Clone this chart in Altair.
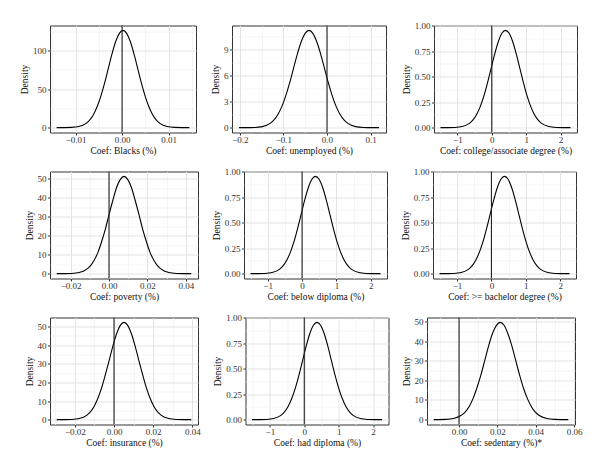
import json

import altair as alt
import pandas as pd

# Posterior density curves of the nine regression coefficients.
# Each panel: coefficient values (x) and the corresponding density (y).

BLACKS_X = [-0.01407, -0.01248, -0.0109, -0.00931, -0.00773, -0.00693, -0.00614, -0.00535,
            -0.00456, -0.00376, -0.00297, -0.00218, -0.00139, -0.00059, 0.0002, 0.00099,
            0.00179, 0.00258, 0.00337, 0.00416, 0.00496, 0.00575, 0.00654, 0.00733,
            0.00813, 0.00971, 0.0113, 0.01288, 0.01447]
BLACKS_D = [0.0, 0.04, 0.28, 1.4, 5.5, 10.0, 17.0, 27.3, 40.9, 57.7, 76.4, 95.1, 111.2, 122.1,
            126.0, 122.1, 111.2, 95.1, 76.4, 57.7, 40.9, 27.3, 17.0, 10.0, 5.5, 1.4, 0.28,
            0.04, 0.0]

UNEMP_X = [-0.2020, -0.1841, -0.1663, -0.1484, -0.1306, -0.1216, -0.1127, -0.1038, -0.0949,
           -0.0859, -0.0770, -0.0681, -0.0592, -0.0502, -0.0413, -0.0324, -0.0235, -0.0145,
           -0.0056, 0.0033, 0.0123, 0.0212, 0.0301, 0.0390, 0.0480, 0.0658, 0.0837, 0.1015,
           0.1194]
UNEMP_D = [0.0, 0.0, 0.02, 0.12, 0.49, 0.89, 1.51, 2.41, 3.62, 5.10, 6.76, 8.42, 9.84, 10.81,
           11.15, 10.81, 9.84, 8.42, 6.76, 5.10, 3.62, 2.41, 1.51, 0.89, 0.49, 0.12, 0.02,
           0.0, 0.0]

COLLEGE_X = [-1.49, -1.28, -1.07, -0.86, -0.65, -0.545, -0.44, -0.335, -0.23, -0.125, -0.02,
             0.085, 0.19, 0.295, 0.40, 0.505, 0.61, 0.715, 0.82, 0.925, 1.03, 1.135, 1.24,
             1.345, 1.45, 1.66, 1.87, 2.08, 2.29]
COLLEGE_D = [0.0, 0.0003, 0.002, 0.011, 0.042, 0.076, 0.129, 0.206, 0.309, 0.437, 0.579,
             0.720, 0.842, 0.925, 0.954, 0.925, 0.842, 0.720, 0.579, 0.437, 0.309, 0.206,
             0.129, 0.076, 0.042, 0.011, 0.002, 0.0003, 0.0]

POVERTY_X = [-0.0272, -0.0233, -0.0194, -0.0155, -0.0117, -0.0097, -0.0078, -0.0058, -0.0039,
             -0.0019, 0.0000, 0.0020, 0.0039, 0.0059, 0.0078, 0.0097, 0.0117, 0.0136, 0.0156,
             0.0175, 0.0195, 0.0214, 0.0234, 0.0253, 0.0273, 0.0311, 0.0350, 0.0389, 0.0428]
POVERTY_D = [0.0, 0.02, 0.11, 0.57, 2.25, 4.1, 6.9, 11.1, 16.7, 23.5, 31.1, 38.7, 45.3, 49.7,
             51.3, 49.7, 45.3, 38.7, 31.1, 23.5, 16.7, 11.1, 6.9, 4.1, 2.25, 0.57, 0.11, 0.02,
             0.0]

BELOW_X = [-1.50, -1.29, -1.08, -0.87, -0.66, -0.555, -0.45, -0.345, -0.24, -0.135, -0.03,
           0.075, 0.18, 0.285, 0.39, 0.495, 0.60, 0.705, 0.81, 0.915, 1.02, 1.125, 1.23,
           1.335, 1.44, 1.65, 1.86, 2.07, 2.28]
BELOW_D = [0.0, 0.0003, 0.002, 0.011, 0.042, 0.076, 0.129, 0.206, 0.309, 0.437, 0.579,
           0.720, 0.842, 0.925, 0.954, 0.925, 0.842, 0.720, 0.579, 0.437, 0.309, 0.206,
           0.129, 0.076, 0.042, 0.011, 0.002, 0.0003, 0.0]

BACHELOR_X = [-1.51, -1.30, -1.09, -0.88, -0.67, -0.565, -0.46, -0.355, -0.25, -0.145, -0.04,
              0.065, 0.17, 0.275, 0.38, 0.485, 0.59, 0.695, 0.80, 0.905, 1.01, 1.115, 1.22,
              1.325, 1.43, 1.64, 1.85, 2.06, 2.27]
BACHELOR_D = [0.0, 0.0003, 0.002, 0.011, 0.042, 0.076, 0.129, 0.206, 0.309, 0.437, 0.579,
              0.720, 0.842, 0.925, 0.954, 0.925, 0.842, 0.720, 0.579, 0.437, 0.309, 0.206,
              0.129, 0.076, 0.042, 0.011, 0.002, 0.0003, 0.0]

INSUR_X = [-0.0293, -0.0255, -0.0216, -0.0178, -0.0140, -0.0121, -0.0102, -0.0083, -0.0064,
           -0.0045, -0.0025, -0.0006, 0.0013, 0.0032, 0.0051, 0.0070, 0.0089, 0.0108, 0.0127,
           0.0147, 0.0166, 0.0185, 0.0204, 0.0223, 0.0242, 0.0280, 0.0318, 0.0357, 0.0395]
INSUR_D = [0.0, 0.02, 0.11, 0.58, 2.3, 4.2, 7.1, 11.3, 16.9, 23.9, 31.7, 39.4, 46.1, 50.6,
           52.2, 50.6, 46.1, 39.4, 31.7, 23.9, 16.9, 11.3, 7.1, 4.2, 2.3, 0.58, 0.11, 0.02, 0.0]

DIPLOMA_X = [-1.52, -1.31, -1.10, -0.89, -0.68, -0.575, -0.47, -0.365, -0.26, -0.155, -0.05,
             0.055, 0.16, 0.265, 0.37, 0.475, 0.58, 0.685, 0.79, 0.895, 1.00, 1.105, 1.21,
             1.315, 1.42, 1.63, 1.84, 2.05, 2.26]
DIPLOMA_D = [0.0, 0.0003, 0.002, 0.011, 0.042, 0.076, 0.129, 0.207, 0.310, 0.437, 0.579,
             0.721, 0.843, 0.926, 0.955, 0.926, 0.843, 0.721, 0.579, 0.437, 0.310, 0.207,
             0.129, 0.076, 0.042, 0.011, 0.002, 0.0003, 0.0]

SEDENT_X = [-0.0132, -0.0110, -0.0069, -0.0029, 0.0012, 0.0033, 0.0053, 0.0073, 0.0093,
            0.0114, 0.0134, 0.0154, 0.0174, 0.0195, 0.0215, 0.0235, 0.0255, 0.0276, 0.0296,
            0.0316, 0.0336, 0.0357, 0.0377, 0.0397, 0.0417, 0.0458, 0.0498, 0.0539, 0.0570]
SEDENT_D = [0.0, 0.02, 0.11, 0.55, 2.2, 3.9, 6.7, 10.7, 16.1, 22.7, 30.0, 37.4, 43.7, 48.0,
            49.5, 48.0, 43.7, 37.4, 30.0, 22.7, 16.1, 10.7, 6.7, 3.9, 2.2, 0.55, 0.11, 0.02,
            0.0]

# Axis titles and tick labels
TITLES = ["Coef: Blacks (%)", "Coef: unemployed (%)", "Coef: college/associate degree (%)",
          "Coef: poverty (%)", "Coef: below diploma (%)", "Coef: >= bachelor degree (%)",
          "Coef: insurance (%)", "Coef: had diploma (%)", "Coef: sedentary (%)*"]
X_TICKS = [[-0.01, 0.0, 0.01], [-0.2, -0.1, 0.0, 0.1], [-1.0, 0.0, 1.0, 2.0],
           [-0.02, 0.0, 0.02, 0.04], [-1.0, 0.0, 1.0, 2.0], [-1.0, 0.0, 1.0, 2.0],
           [-0.02, 0.0, 0.02, 0.04], [-1.0, 0.0, 1.0, 2.0], [0.0, 0.02, 0.04, 0.06]]
X_FMT = [".2f", ".1f", ".0f", ".2f", ".0f", ".0f", ".2f", ".0f", ".2f"]
Y_TICKS = [[0.0, 50.0, 100.0], [0.0, 3.0, 6.0, 9.0], [0.0, 0.25, 0.5, 0.75, 1.0],
           [0.0, 10.0, 20.0, 30.0, 40.0, 50.0], [0.0, 0.25, 0.5, 0.75, 1.0],
           [0.0, 0.25, 0.5, 0.75, 1.0], [0.0, 10.0, 20.0, 30.0, 40.0, 50.0],
           [0.0, 0.25, 0.5, 0.75, 1.0], [0.0, 10.0, 20.0, 30.0, 40.0, 50.0]]
Y_FMT = [".0f", ".0f", ".2f", ".0f", ".2f", ".2f", ".0f", ".2f", ".0f"]

# Vertical reference line at a zero effect
REF_LINE = [0.0]

SERIES = [(BLACKS_X, BLACKS_D), (UNEMP_X, UNEMP_D), (COLLEGE_X, COLLEGE_D),
          (POVERTY_X, POVERTY_D), (BELOW_X, BELOW_D), (BACHELOR_X, BACHELOR_D),
          (INSUR_X, INSUR_D), (DIPLOMA_X, DIPLOMA_D), (SEDENT_X, SEDENT_D)]

# Panel sizes (plot area, px)
WIDTHS = [146, 154, 143, 148, 143, 143, 148, 143, 148]
HEIGHT = 107

FONT = "Liberation Serif, serif"


def expanded(lo, hi, frac=0.05):
    pad = (hi - lo) * frac
    return [lo - pad, hi + pad]


def minor_ticks(major, lo, hi):
    step = major[1] - major[0]
    out = []
    for k in range(-3, len(major) + 3):
        v = round(major[0] - step / 2 + k * step, 10)
        if lo <= v <= hi:
            out.append(v)
    return out


def make_axis(major, domain, fmt, title, orient):
    inside = [v for v in major if domain[0] <= v <= domain[1]]
    test = "indexof(%s, datum.value) >= 0" % json.dumps(inside)
    values = sorted(set(inside) | set(minor_ticks(major, domain[0], domain[1])))
    vertical = orient == "left"
    return alt.Axis(
        values=values,
        labelExpr="%s ? format(datum.value, '%s') : ''" % (test, fmt),
        labelOverlap=False,
        labelFlush=False,
        title=title,
        orient=orient,
        domain=False,
        grid=True,
        gridColor={"condition": {"test": test, "value": "#E3E3E3"}, "value": "#F1F1F1"},
        gridWidth={"condition": {"test": test, "value": 1}, "value": 0.7},
        ticks=True,
        tickColor="#333333",
        tickSize=2.5,
        tickWidth=1,
        tickOpacity={"condition": {"test": test, "value": 1}, "value": 0},
        labelPadding=1.5 if vertical else 0.5,
        labelFont=FONT,
        labelFontSize=9,
        labelColor="#333333",
        titleFont=FONT,
        titleFontSize=9.5,
        titleFontWeight="normal",
        titleColor="#111111",
        titlePadding=3 if vertical else 1,
    )


def panel(i):
    xs, ds = SERIES[i]
    xdom = expanded(min(xs), max(xs))
    ydom = expanded(0, max(ds))
    df = pd.DataFrame({"coef": xs, "density": ds})
    ref = pd.DataFrame({"coef": REF_LINE})
    x_enc = alt.X("coef:Q",
                  scale=alt.Scale(domain=xdom, nice=False, zero=False),
                  axis=make_axis(X_TICKS[i], xdom, X_FMT[i], TITLES[i], "bottom"))
    y_enc = alt.Y("density:Q",
                  scale=alt.Scale(domain=ydom, nice=False, zero=False),
                  axis=make_axis(Y_TICKS[i], ydom, Y_FMT[i], "Density", "left"))
    curve = alt.Chart(df).mark_line(color="#000000", strokeWidth=1.1,
                                    interpolate="monotone").encode(x=x_enc, y=y_enc)
    vline = alt.Chart(ref).mark_rule(color="#222222", strokeWidth=1.1).encode(x=x_enc)
    return alt.layer(curve, vline).properties(width=WIDTHS[i], height=HEIGHT)


rows = [
    alt.hconcat(panel(0), panel(1), panel(2), spacing=13),
    alt.hconcat(panel(3), panel(4), panel(5), spacing=11),
    alt.hconcat(panel(6), panel(7), panel(8), spacing=10.5),
]

chart = alt.vconcat(*rows, spacing=11).properties(
    padding={"left": 19, "top": 20.5, "right": 2, "bottom": 2},
    background="white",
).configure(
    font=FONT
).configure_view(
    stroke="#333333", strokeWidth=1
)

chart.save("out.html", embed_options={"renderer": "svg", "actions": False})
